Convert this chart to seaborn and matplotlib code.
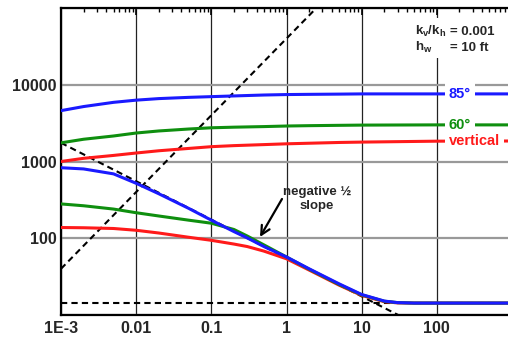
import numpy as np
import pandas as pd
import matplotlib
matplotlib.use("Agg")
import matplotlib.pyplot as plt
import seaborn as sns
from matplotlib.patches import Rectangle
from matplotlib.ticker import FixedLocator, FixedFormatter, LogLocator, NullFormatter

# ---------------- data ----------------
x_upper = [0.001, 0.002, 0.005, 0.01, 0.02, 0.05, 0.1, 0.2, 0.5, 1, 2, 5, 10, 100, 1000]
upper_85 = [4600, 5200, 5900, 6300, 6600, 6850, 7000, 7150, 7350, 7450, 7500, 7550, 7600, 7600, 7600]
upper_60 = [1750, 1950, 2150, 2350, 2500, 2650, 2750, 2800, 2850, 2900, 2930, 2960, 2980, 3000, 3000]
upper_vert = [1000, 1100, 1200, 1290, 1380, 1480, 1560, 1610, 1660, 1700, 1730, 1770, 1790, 1840, 1850]

x_lower = [0.001, 0.002, 0.005, 0.01, 0.02, 0.05, 0.1, 0.2, 0.3, 0.5, 1, 2, 5, 10, 20, 30, 50, 100, 1000]
lower_85 = [830, 800, 690, 520, 380, 245, 172, 122, 101, 78, 57, 40, 25.5, 18.5, 15.2, 14.5, 14.3, 14.3, 14.3]
lower_60 = [280, 265, 240, 215, 195, 172, 157, 130, 107, 82, 57, 39.5, 25, 18.3, 15.1, 14.5, 14.3, 14.3, 14.3]
lower_vert = [138, 137, 134, 127, 117, 103, 94, 84, 78, 68, 54, 38.5, 24.5, 18.0, 14.9, 14.4, 14.3, 14.3, 14.3]

slope_down_x = [0.001, 30.6]
slope_down_y = [1750, 10]
slope_up_x = [0.001, 2.5]
slope_up_y = [40, 100000]
floor_x = [0.001, 1000]
floor_y = [14.3, 14.3]

labels = ["85°", "60°", "vertical"]
label_y = [7600, 3000, 1850]
xtick_vals = [1e-3, 1e-2, 1e-1, 1, 10, 100, 1000]
xtick_labels = ["1E-3", "0.01", "0.1", "1", "10", "100", ""]
ytick_vals = [10, 100, 1000, 10000, 100000]
ytick_labels = ["", "100", "1000", "10000", ""]

BLUE = "#1a1aff"
GREEN = "#0f8f0f"
RED = "#ff1a1a"

# ---------------- style ----------------
sns.set_theme(style="white")
plt.rcParams["font.family"] = ["Liberation Sans", "DejaVu Sans"]
plt.rcParams["font.weight"] = "bold"
plt.rcParams["mathtext.fontset"] = "custom"
plt.rcParams["mathtext.rm"] = "Liberation Sans:bold"
plt.rcParams["mathtext.it"] = "Liberation Sans:bold"
plt.rcParams["mathtext.bf"] = "Liberation Sans:bold"

fig = plt.figure(figsize=(5.08, 3.40), dpi=100)
ax = fig.add_axes([61 / 508, 25 / 340, 451 / 508, 307 / 340])
ax.set_xscale("log")
ax.set_yscale("log")
ax.set_xlim(1e-3, 1e3)
ax.set_ylim(10, 1e5)
ax.set_axisbelow(True)

def df(x, y):
    return pd.DataFrame({"x": x, "y": y})

# dashed reference lines
for xx, yy in [(slope_down_x, slope_down_y), (slope_up_x, slope_up_y), (floor_x, floor_y)]:
    sns.lineplot(data=df(xx, yy), x="x", y="y", ax=ax, color="black", lw=1.5,
                 estimator=None, sort=True, zorder=2)
for line in ax.lines:
    line.set_dashes((3, 2))

# curves
for xx, yy, c, z in [(x_upper, upper_vert, RED, 3), (x_upper, upper_60, GREEN, 3), (x_upper, upper_85, BLUE, 3),
                     (x_lower, lower_vert, RED, 3), (x_lower, lower_60, GREEN, 3.1), (x_lower, lower_85, BLUE, 3.2)]:
    sns.lineplot(data=df(xx, yy), x="x", y="y", ax=ax, color=c, lw=2.2,
                 estimator=None, sort=True, zorder=z)

ax.set_xlabel("")
ax.set_ylabel("")

# grid
ax.xaxis.grid(True, which="major", color="#222222", lw=0.9)
ax.yaxis.grid(True, which="major", color="#999999", lw=1.6)

# ticks
ax.xaxis.set_major_locator(FixedLocator(xtick_vals))
ax.xaxis.set_major_formatter(FixedFormatter(xtick_labels))
ax.yaxis.set_major_locator(FixedLocator(ytick_vals))
ax.yaxis.set_major_formatter(FixedFormatter(ytick_labels))
ax.xaxis.set_minor_locator(LogLocator(base=10, subs=np.arange(2, 10), numticks=20))
ax.yaxis.set_minor_locator(LogLocator(base=10, subs=np.arange(2, 10), numticks=20))
ax.xaxis.set_minor_formatter(NullFormatter())
ax.yaxis.set_minor_formatter(NullFormatter())
ax.tick_params(which="both", direction="in", top=True, right=False, color="black")
ax.tick_params(which="major", length=5, width=1.2)
ax.tick_params(which="minor", length=3, width=1.0)
ax.tick_params(axis="x", which="major", labelsize=11.5, pad=4)
ax.tick_params(axis="y", which="major", labelsize=11.5, pad=3)
for lab in ax.get_xticklabels() + ax.get_yticklabels():
    lab.set_fontweight("bold")

for s in ["left", "bottom", "top"]:
    ax.spines[s].set_color("black")
    ax.spines[s].set_linewidth(1.6)
ax.spines["right"].set_visible(False)

# white area behind the parameter text
ax.add_patch(Rectangle((0.774, 0.837), 0.2, 0.13, transform=ax.transAxes,
                       facecolor="white", edgecolor="none", zorder=1))
ax.text(51, 49000, r"k$_{v}$/k$_{h}$", fontsize=9.5, fontweight="bold", va="center", ha="left", zorder=4)
ax.text(150, 49000, "= 0.001", fontsize=9.5, fontweight="bold", va="center", ha="left", zorder=4)
ax.text(51, 30500, r"h$_{w}$", fontsize=9.5, fontweight="bold", va="center", ha="left", zorder=4)
ax.text(150, 30500, "= 10 ft", fontsize=9.5, fontweight="bold", va="center", ha="left", zorder=4)

# curve labels
for lab, yv, c in zip(labels, label_y, [BLUE, GREEN, RED]):
    ax.text(145, yv, lab, color=c, fontsize=10.5, fontweight="bold", va="center", ha="left",
            bbox=dict(facecolor="white", edgecolor="none", pad=2.5), zorder=5)

# annotation
ax.text(2.55, 325, "negative ½\nslope", ha="center", va="center", fontsize=9.5,
        fontweight="bold", linespacing=1.15, zorder=6)
ax.annotate("", xy=(0.444, 104), xytext=(0.871, 325),
            arrowprops=dict(arrowstyle="->", color="black", lw=1.6,
                            shrinkA=0, shrinkB=0, mutation_scale=16),
            zorder=6)

fig.savefig("out.png", dpi=100)
